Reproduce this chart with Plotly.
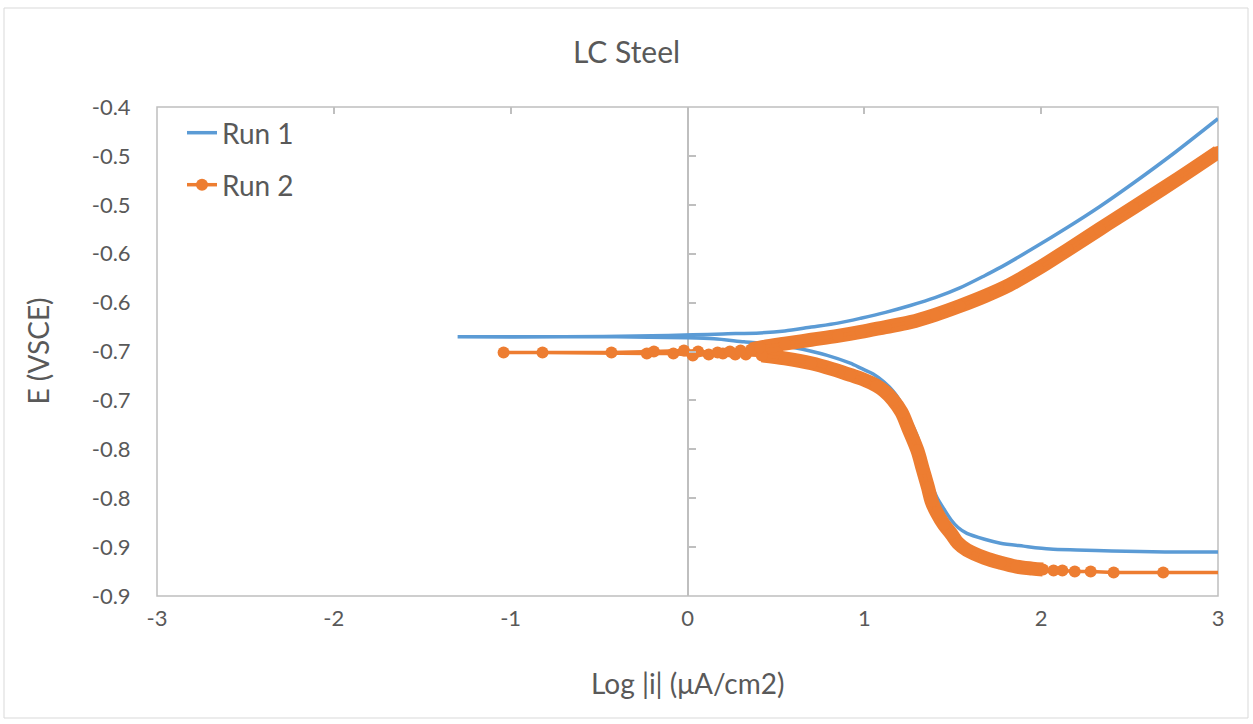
import plotly.graph_objects as go

# ---------------- text ----------------
title_text = "LC Steel"
x_title = "Log |i| (μA/cm2)"
y_title = "E (VSCE)"

# ---------------- ticks ----------------
x_ticks = [-3, -2, -1, 0, 1, 2, 3]
x_tick_text = ["-3", "-2", "-1", "0", "1", "2", "3"]
y_ticks = [-0.40, -0.45, -0.50, -0.55, -0.60, -0.65, -0.70, -0.75, -0.80, -0.85, -0.90]
y_tick_text = ["-0.4", "-0.5", "-0.5", "-0.6", "-0.6", "-0.7", "-0.7", "-0.8", "-0.8", "-0.9", "-0.9"]

# ---------------- Run 1 ----------------
run1_log_i = [3.00, 2.70, 2.40, 2.20, 2.05, 1.90, 1.77, 1.68, 1.58, 1.53, 1.49, 1.45, 1.41, 1.38,
              1.36, 1.33, 1.30, 1.25, 1.21, 1.165, 1.11, 1.05, 0.98, 0.92, 0.79, 0.60, 0.45, 0.32,
              0.15, 0.00, -0.40, -0.90, -1.30,
              -0.70, -0.20, 0.03, 0.20, 0.41, 0.55, 0.70, 0.85, 0.98, 1.12, 1.26, 1.40, 1.54,
              1.68, 1.77, 1.96, 2.15, 2.33, 2.52, 2.76, 3.00]
run1_E = [-0.855, -0.855, -0.854, -0.853, -0.852, -0.849, -0.846, -0.842, -0.836, -0.830, -0.822,
          -0.811, -0.799, -0.786, -0.772, -0.755, -0.737, -0.717, -0.703, -0.691, -0.681, -0.673,
          -0.667, -0.662, -0.654, -0.646, -0.642, -0.640, -0.637, -0.636, -0.635, -0.635, -0.635,
          -0.635, -0.634, -0.633, -0.632, -0.631, -0.629, -0.625, -0.621, -0.616, -0.610, -0.603,
          -0.595, -0.585, -0.5725, -0.564, -0.544, -0.523, -0.502, -0.478, -0.446, -0.412]

# ---------------- Run 2 ----------------
run2_tail_log_i = [3.25, 2.69, 2.41, 2.28, 2.19, 2.12, 2.07]
run2_tail_E = [-0.876, -0.876, -0.876, -0.875, -0.875, -0.874, -0.874]

run2_cath_log_i = [2.01, 1.95, 1.86, 1.77, 1.68, 1.58, 1.53, 1.49, 1.45, 1.41, 1.38, 1.36, 1.33,
                   1.30, 1.25, 1.21, 1.16, 1.11, 1.07, 1.00, 0.92, 0.82, 0.70, 0.55, 0.42]
run2_cath_E = [-0.873, -0.872, -0.870, -0.866, -0.861, -0.853, -0.846, -0.836, -0.827, -0.815,
               -0.803, -0.789, -0.770, -0.751, -0.729, -0.712, -0.699, -0.690, -0.685, -0.679,
               -0.674, -0.668, -0.662, -0.657, -0.654]

run2_ecorr_log_i = [0.33, 0.27, 0.20, 0.12, 0.03, -0.08, -0.23, -0.82, -1.04, -0.43, -0.19,
                    -0.02, 0.06, 0.17, 0.24, 0.30]
run2_ecorr_E = [-0.653, -0.653, -0.652, -0.653, -0.654, -0.652, -0.652, -0.651, -0.651, -0.651,
                -0.650, -0.649, -0.650, -0.651, -0.650, -0.649]

run2_anod_log_i = [0.36, 0.41, 0.55, 0.70, 0.85, 0.98, 1.12, 1.26, 1.40, 1.54, 1.68, 1.82, 1.98,
                   2.15, 2.33, 2.52, 2.76, 3.00]
run2_anod_E = [-0.648, -0.646, -0.642, -0.638, -0.634, -0.630, -0.625, -0.620, -0.6125, -0.6035,
               -0.5935, -0.582, -0.5655, -0.546, -0.525, -0.503, -0.475, -0.446]

run2_log_i = run2_tail_log_i + run2_cath_log_i + run2_ecorr_log_i + run2_anod_log_i
run2_E = run2_tail_E + run2_cath_E + run2_ecorr_E + run2_anod_E

# ---------------- style ----------------
BLUE = "#5B9BD5"
ORANGE = "#ED7D31"
TEXT = "#595959"
GRID = "#BFBFBF"
FONT = "Lato, Carlito, 'Open Sans', sans-serif"

W, H = 1253, 724
L, R, T, B = 157, 35, 107, 128
pw, ph = W - L - R, H - T - B

x_range = [-3, 3]
y_range = [-0.90, -0.40]

fig = go.Figure()

fig.add_trace(go.Scatter(x=run1_log_i, y=run1_E, mode="lines", name="Run 1",
                         line=dict(color=BLUE, width=3.5, shape="spline", smoothing=0.8),
                         legend="legend"))

# dense parts of run 2 appear as a continuous band of overlapping markers
for bx, by in [(run2_cath_log_i, run2_cath_E), (run2_anod_log_i, run2_anod_E)]:
    fig.add_trace(go.Scatter(x=bx, y=by, mode="lines", showlegend=False, hoverinfo="skip",
                             line=dict(color=ORANGE, width=14, shape="spline")))

fig.add_trace(go.Scatter(x=run2_log_i, y=run2_E, mode="lines+markers", name="Run 2",
                         line=dict(color=ORANGE, width=3.5),
                         marker=dict(color=ORANGE, size=12, line=dict(width=0)),
                         legend="legend2"))

# plot area border
fig.add_shape(type="rect", xref="x domain", yref="y domain", x0=0, x1=1, y0=0, y1=1,
              line=dict(color=GRID, width=1.5), layer="below")
# outer chart border
fig.add_shape(type="rect", xref="paper", yref="paper",
              x0=(4 - L) / pw, x1=(W - 5 - L) / pw, y0=-(B - 6) / ph, y1=1 + (T - 8) / ph,
              line=dict(color="#D9D9D9", width=1), layer="below")

fig.add_annotation(text=x_title, xref="paper", yref="paper", x=0.5, y=-(683 - (T + ph)) / ph,
                   xanchor="center", yanchor="middle", showarrow=False,
                   font=dict(family=FONT, size=28, color=TEXT))
fig.add_annotation(text=y_title, xref="paper", yref="paper", x=(37 - L) / pw, y=0.5,
                   xanchor="center", yanchor="middle", showarrow=False, textangle=-90,
                   font=dict(family=FONT, size=28, color=TEXT))

fig.update_layout(
    width=W, height=H,
    margin=dict(l=L, r=R, t=T, b=B),
    paper_bgcolor="white", plot_bgcolor="white",
    font=dict(family=FONT, color=TEXT),
    title=dict(text=title_text, x=0.5, xanchor="center", y=1 - 52 / H, yanchor="middle",
               font=dict(family=FONT, size=30, color=TEXT)),
    xaxis=dict(range=x_range, tickvals=x_ticks, ticktext=x_tick_text, showgrid=False,
               showline=False, zeroline=True, zerolinecolor=GRID, zerolinewidth=1.5,
               ticks="outside", ticklen=3, tickcolor="rgba(0,0,0,0)",
               tickfont=dict(family=FONT, size=22, color=TEXT)),
    xaxis2=dict(range=x_range, tickvals=x_ticks, overlaying="x", side="top", anchor="y",
                showgrid=False, showline=False, zeroline=False, showticklabels=False,
                ticks="inside", ticklen=7, tickcolor=GRID, tickwidth=1.5),
    yaxis=dict(range=y_range, tickvals=y_ticks, ticktext=y_tick_text, showgrid=False,
               showline=False, zeroline=False,
               ticks="outside", ticklen=21, tickcolor="rgba(0,0,0,0)",
               tickfont=dict(family=FONT, size=22, color=TEXT)),
    yaxis2=dict(range=y_range, tickvals=y_ticks, overlaying="y", anchor="free", position=0.5,
                side="left", showgrid=False, showline=False, zeroline=False,
                showticklabels=False, ticks="inside", ticklen=7, tickcolor=GRID, tickwidth=1.5),
    legend=dict(x=(182 - L) / pw, y=(T + ph - 133) / ph, xanchor="left", yanchor="middle",
                bgcolor="rgba(0,0,0,0)", font=dict(family=FONT, size=28, color=TEXT)),
    legend2=dict(x=(182 - L) / pw, y=(T + ph - 185) / ph, xanchor="left", yanchor="middle",
                 bgcolor="rgba(0,0,0,0)", font=dict(family=FONT, size=28, color=TEXT)),
    showlegend=True,
)

# invisible helper traces so the tick-only axes are drawn
fig.add_trace(go.Scatter(x=[None], y=[None], xaxis="x2", yaxis="y", showlegend=False,
                         hoverinfo="skip"))
fig.add_trace(go.Scatter(x=[None], y=[None], xaxis="x", yaxis="y2", showlegend=False,
                         hoverinfo="skip"))

fig.write_html("out.html")
